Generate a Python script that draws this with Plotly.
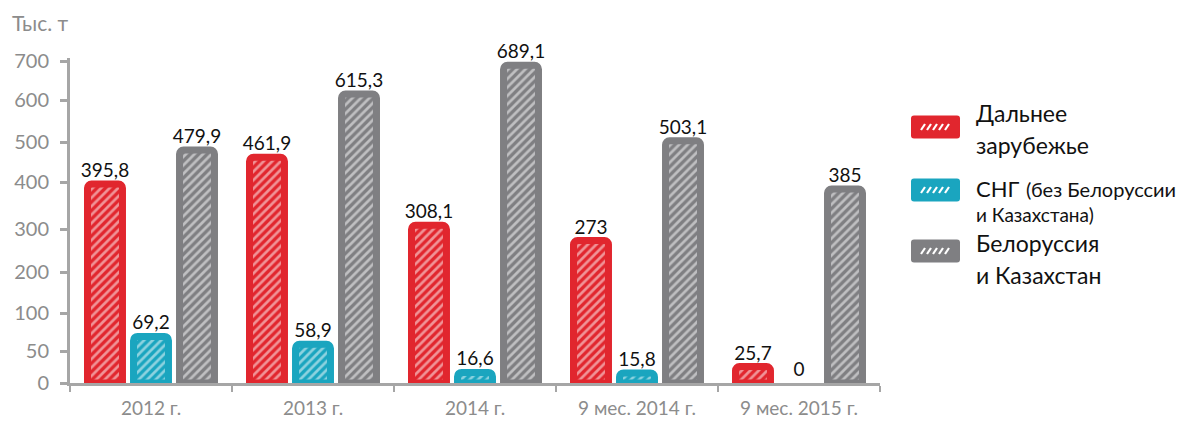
import numpy as np
import plotly.graph_objects as go

categories = ["2012 г.", "2013 г.", "2014 г.", "9 мес. 2014 г.", "9 мес. 2015 г."]
far_abroad = [395.8, 461.9, 308.1, 273.0, 25.7]
cis = [69.2, 58.9, 16.6, 15.8, 0.0]
bel_kaz = [479.9, 615.3, 689.1, 503.1, 385.0]

colors = ["#E1262E", "#1AA5BF", "#7F7F82"]

# original chart uses an uneven value axis: tick value -> position (px above baseline)
tick_vals = [0, 50, 100, 200, 300, 400, 500, 600, 700]
tick_pos = [0, 32, 70, 111, 154, 201, 241, 283, 322]


def scale(v):
    return np.interp(v, tick_vals, tick_pos)


def fmt(v):
    return f"{v:g}".replace(".", ",")


FONT = "Lato, 'Noto Sans', sans-serif"
W, H = 1177, 421
ML, MR, MT, MB = 70, 297, 58, 38
PW, PH = W - ML - MR, H - MT - MB

fig = go.Figure()
for vals, col in zip([far_abroad, cis, bel_kaz], colors):
    fig.add_trace(go.Bar(
        x=categories, y=scale(vals), text=[fmt(v) for v in vals],
        textposition="outside", textfont=dict(size=19, color="#111", family=FONT),
        cliponaxis=False, constraintext="none", showlegend=False, hoverinfo="skip",
        marker=dict(color=col, line=dict(color=col, width=[7 if v > 0 else 0 for v in vals]),
                    pattern=dict(shape="/", bgcolor=col, fgcolor="white", size=6, solidity=0.45)),
    ))


def px(x):
    return (x - ML) / PW


def py(y):
    return (H - MB - y) / PH


shapes = []
annotations = []
legend_items = [
    (colors[0], 127, [(974, 113, "Дальнее", 23), (974, 145, "зарубежье", 23)]),
    (colors[1], 190, [(974, 188, "СНГ", 22), (1024, 189, "(без Белоруссии", 20), (974, 214, "и Казахстана)", 19)]),
    (colors[2], 251, [(974, 243, "Белоруссия", 23), (974, 275, "и Казахстан", 23)]),
]
for col, cy, lines in legend_items:
    x0, x1, y0, y1 = 911, 960, cy - 11.5, cy + 11.5
    r = 3
    path = (f"M {px(x0 + r)},{py(y0)} L {px(x1 - r)},{py(y0)} Q {px(x1)},{py(y0)} {px(x1)},{py(y0 + r)} "
            f"L {px(x1)},{py(y1 - r)} Q {px(x1)},{py(y1)} {px(x1 - r)},{py(y1)} "
            f"L {px(x0 + r)},{py(y1)} Q {px(x0)},{py(y1)} {px(x0)},{py(y1 - r)} "
            f"L {px(x0)},{py(y0 + r)} Q {px(x0)},{py(y0)} {px(x0 + r)},{py(y0)} Z")
    shapes.append(dict(type="path", xref="paper", yref="paper", path=path,
                       fillcolor=col, line=dict(width=0)))
    for i in range(5):
        sx = 921 + i * 6
        shapes.append(dict(type="line", xref="paper", yref="paper",
                           x0=px(sx), y0=py(cy + 3), x1=px(sx + 4), y1=py(cy - 3),
                           line=dict(color="white", width=2.2)))
    for lx, ly, txt, fs in lines:
        annotations.append(dict(xref="paper", yref="paper", x=px(lx), y=py(ly),
                                xanchor="left", yanchor="middle", text=txt, showarrow=False,
                                font=dict(size=fs, color="#111", family=FONT)))

annotations.append(dict(xref="paper", yref="paper", x=px(10), y=py(23), xanchor="left",
                        yanchor="middle", text="Тыс. т", showarrow=False,
                        font=dict(size=21, color="#8C8C8C", family=FONT)))

fig.update_layout(
    width=W, height=H, margin=dict(l=ML, r=MR, t=MT, b=MB),
    paper_bgcolor="white", plot_bgcolor="white",
    barmode="group", bargap=0.148, bargroupgap=0.24, barcornerradius=4,
    font=dict(family=FONT),
    shapes=shapes, annotations=annotations, showlegend=False,
    xaxis=dict(showline=True, linecolor="#A6A6A6", linewidth=3, ticks="outside",
               tickson="boundaries", ticklen=6, tickwidth=2, tickcolor="#A6A6A6",
               ticklabelstandoff=6, automargin=False,
               tickfont=dict(size=19, color="#8C8C8C", family=FONT), showgrid=False),
    yaxis=dict(range=[0, PH], tickvals=tick_pos, ticktext=[str(v) for v in tick_vals],
               showline=True, linecolor="#A6A6A6", linewidth=3, ticks="outside",
               ticklen=7, tickwidth=3, tickcolor="#A6A6A6", showgrid=False, zeroline=False,
               ticklabelstandoff=7, automargin=False,
               tickfont=dict(size=20, color="#8C8C8C", family=FONT)),
)

fig.write_html("out.html", config={"displayModeBar": False},
               post_script="document.body.style.margin='0';")
